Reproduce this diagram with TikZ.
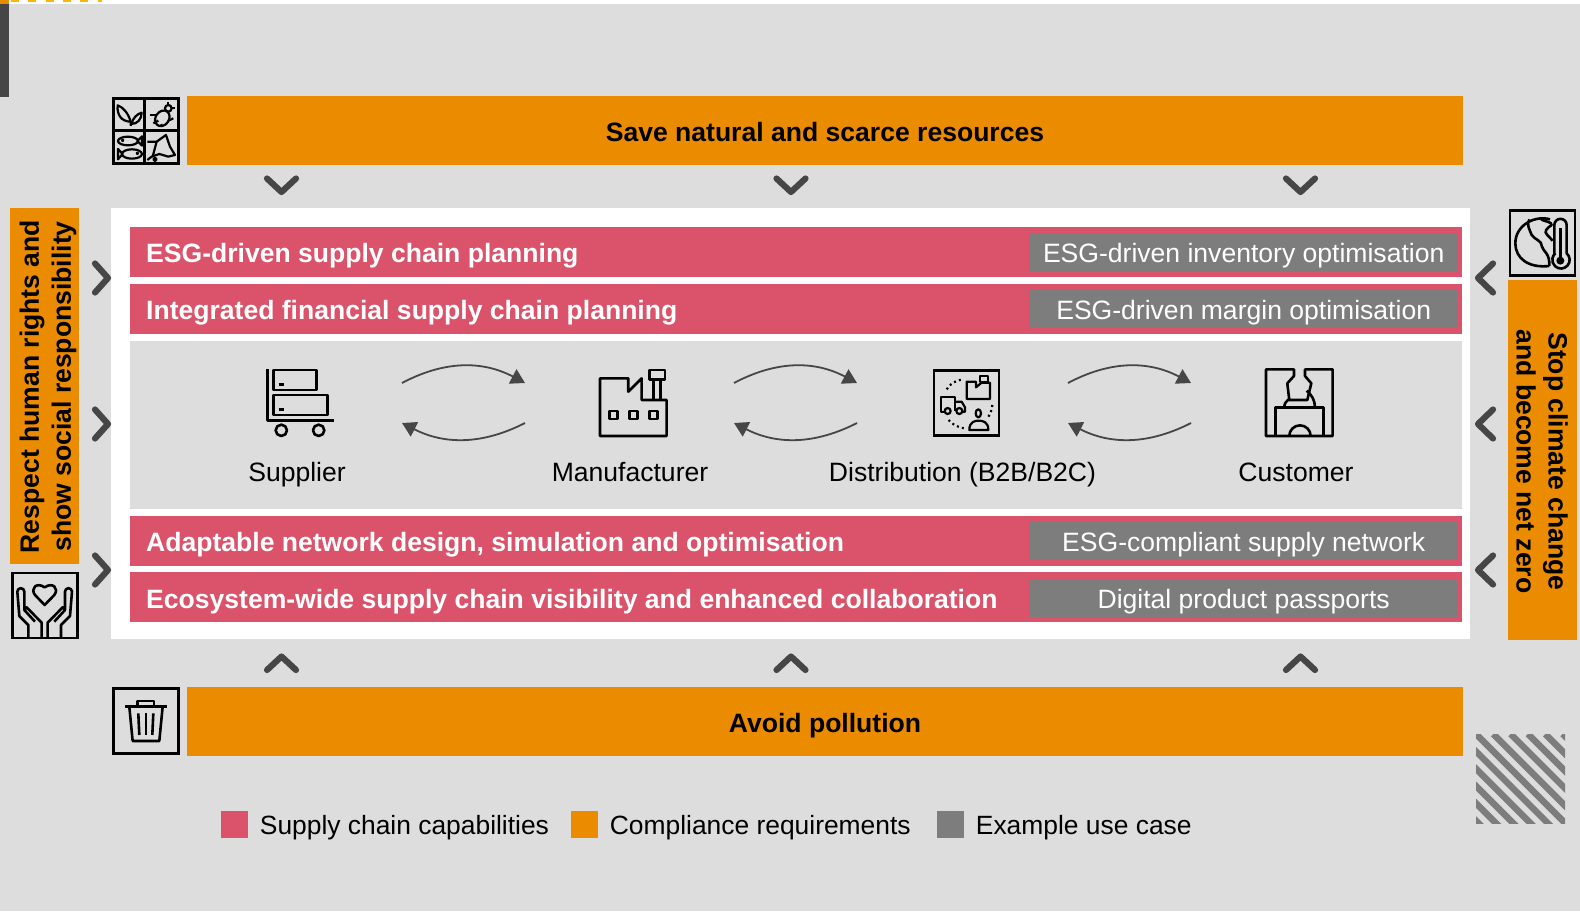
\documentclass[tikz,border=0pt]{standalone}
\usepackage{fontspec}
\setmainfont{Liberation Sans}
\usetikzlibrary{arrows.meta}

\definecolor{page-grey}{HTML}{DDDDDD}
\definecolor{esg-orange}{HTML}{EB8C00}
\definecolor{esg-red}{HTML}{DB536A}
\definecolor{case-grey}{HTML}{7D7D7D}
\definecolor{dark-grey}{HTML}{464646}
\definecolor{top-yellow}{HTML}{FFB600}

\tikzstyle{block}=[anchor=north west, inner sep=0pt, outer sep=0pt]
\tikzstyle{orange-bar}=[block, fill=esg-orange, minimum width=1276pt, minimum height=69pt, text height=21pt, text depth=0pt, font=\fontsize{26.55}{32}\selectfont\bfseries]
\tikzstyle{side-text}=[inner sep=0pt, align=center, font=\fontsize{26.55}{32}\selectfont\bfseries]
\tikzstyle{row-bar}=[block, fill=esg-red, minimum width=1332pt, minimum height=50pt]
\tikzstyle{row-text}=[anchor=west, inner sep=0pt, text=white, text height=19pt, text depth=0pt, font=\fontsize{26.55}{32}\selectfont\bfseries]
\tikzstyle{case-box}=[fill=case-grey, inner sep=0pt, minimum width=428.7pt, minimum height=37.7pt, text=white, text height=21pt, text depth=0pt, font=\fontsize{26.55}{32}\selectfont]
\tikzstyle{stage-text}=[inner sep=0pt, text height=19pt, text depth=0pt, font=\fontsize{26.55}{32}\selectfont]
\tikzstyle{legend-box}=[inner sep=0pt, minimum size=27pt]
\tikzstyle{legend-text}=[inner sep=0pt, text height=21pt, text depth=0pt, font=\fontsize{26.4}{32}\selectfont]
\tikzstyle{icon-frame}=[draw=black, line width=2.6pt, inner sep=0pt, minimum size=65pt]
\tikzstyle{icon-line}=[draw=black, line width=2.6pt, line join=round]
\tikzstyle{chevron}=[draw=dark-grey, line width=6.2pt, line cap=round, line join=round]
\tikzstyle{flow}=[draw=dark-grey, line width=1.8pt, -{Triangle[length=14pt, width=16pt]}]

\begin{document}
\begin{tikzpicture}[x=1pt, y=-1pt]
      \useasboundingbox (0,0) rectangle (1580,911);
      \fill [page-grey] (0,0) rectangle (1580,911);
      \fill [white] (9,0) rectangle (1580,4);
      \fill [esg-orange] (0,0) rectangle (9,4);
      \fill [dark-grey] (0,4) rectangle (9,97);
      \draw [top-yellow, line width=2pt, dash pattern=on 8pt off 9.3pt] (11,1) -- (102,1);

      % top and bottom
      \node (bar:save) at (187,96) [orange-bar] {Save natural and scarce resources};
      \node (bar:avoid) at (187,687) [orange-bar] {Avoid pollution};
      \node (panel) at (111,208) [block, fill=white, minimum width=1359pt, minimum height=431pt] {};

      % left and right
      \node (bar:left) at (10,208) [block, fill=esg-orange, minimum width=69pt, minimum height=356pt] {};
      \node (bar:right) at (1508,280) [block, fill=esg-orange, minimum width=69pt, minimum height=360pt] {};
      \node (text:left) at (48,386.5) [side-text, rotate=90] {Respect human rights and\\show social responsibility};
      \node (text:right) at (1542,461.5) [side-text, rotate=-90] {Stop climate change\\and become net zero};

      % rows
      \node (row:1) at (130,227) [row-bar] {};
      \node (row:2) at (130,284) [row-bar] {};
      \node (row:3) at (130,516) [row-bar] {};
      \node (row:4) at (130,572) [row-bar] {};
      \node (stages) at (130,341) [block, fill=page-grey, minimum width=1332pt, minimum height=168pt] {};

      \node (row-text:1) at (146,252.5) [row-text] {ESG-driven supply chain planning};
      \node (row-text:2) at (146,309.5) [row-text] {Integrated financial supply chain planning};
      \node (row-text:3) at (146,542) [row-text] {Adaptable network design, simulation and optimisation};
      \node (row-text:4) at (146,598.5) [row-text] {Ecosystem-wide supply chain visibility and enhanced collaboration};

      \node (case:1) at (1243.7,252.2) [case-box] {ESG-driven inventory optimisation};
      \node (case:2) at (1243.7,309) [case-box] {ESG-driven margin optimisation};
      \node (case:3) at (1243.7,541.2) [case-box] {ESG-compliant supply network};
      \node (case:4) at (1243.7,597.8) [case-box] {Digital product passports};

      % stages
      \node (stage:1) at (297,472) [stage-text] {Supplier};
      \node (stage:2) at (630,472) [stage-text] {Manufacturer};
      \node (stage:3) at (962.5,472) [stage-text] {Distribution (B2B/B2C)};
      \node (stage:4) at (1296,472) [stage-text] {Customer};

      \coordinate (flow-1a) at (402,383);
      \coordinate (flow-1b) at (525,383);
      \coordinate (flow-1c) at (525,423);
      \coordinate (flow-1d) at (402,423);
      \coordinate (flow-2a) at (734,383);
      \coordinate (flow-2b) at (857,383);
      \coordinate (flow-2c) at (857,423);
      \coordinate (flow-2d) at (734,423);
      \coordinate (flow-3a) at (1068,383);
      \coordinate (flow-3b) at (1191,383);
      \coordinate (flow-3c) at (1191,423);
      \coordinate (flow-3d) at (1068,423);
      \draw [flow] (flow-1a) to [bend left=28] (flow-1b);
      \draw [flow] (flow-1c) to [bend left=27] (flow-1d);
      \draw [flow] (flow-2a) to [bend left=28] (flow-2b);
      \draw [flow] (flow-2c) to [bend left=27] (flow-2d);
      \draw [flow] (flow-3a) to [bend left=28] (flow-3b);
      \draw [flow] (flow-3c) to [bend left=27] (flow-3d);

      % chevrons
      \draw [chevron] (267,178.5) -- (281.5,192) -- (296,178.5);
      \draw [chevron] (776.5,178.5) -- (791,192) -- (805.5,178.5);
      \draw [chevron] (1286,178.5) -- (1300.5,192) -- (1315,178.5);
      \draw [chevron] (267,670) -- (281.5,656.5) -- (296,670);
      \draw [chevron] (776.5,670) -- (791,656.5) -- (805.5,670);
      \draw [chevron] (1286,670) -- (1300.5,656.5) -- (1315,670);
      \draw [chevron] (95,263.5) -- (108,278) -- (95,292.5);
      \draw [chevron] (95,409.5) -- (108,424) -- (95,438.5);
      \draw [chevron] (95,555.5) -- (108,570) -- (95,584.5);
      \draw [chevron] (1493,263.5) -- (1478,278) -- (1493,292.5);
      \draw [chevron] (1493,409.5) -- (1478,424) -- (1493,438.5);
      \draw [chevron] (1493,555.5) -- (1478,570) -- (1493,584.5);

      % supplier
      \begin{scope}[shift={(240,350)}, x=0.3333pt, y=-0.3333pt, icon-line]
        \draw (82,58) -- (82,212) -- (283,212);
        \draw (100,60) rectangle (230,120);
        \draw (100,135) rectangle (262,195);
        \draw (116,103) -- (131,103);
        \draw (116,178) -- (131,178);
        \draw (124,241) circle (17);
        \draw (236,241) circle (17);
      \end{scope}

      % manufacturer
      \begin{scope}[shift={(240,350)}, x=0.3333pt, y=-0.3333pt, icon-line]
        \draw (1080,258) -- (1080,85) -- (1165,85) -- (1165,125) -- (1205,85) -- (1205,150) -- (1280,150) -- (1280,258) -- cycle;
        \draw (1240,150) -- (1240,88);
        \draw (1262,150) -- (1262,88);
        \draw (1228,60) rectangle (1275,88);
        \draw (1108,183) rectangle (1132,207);
        \draw (1168,183) rectangle (1192,207);
        \draw (1228,183) rectangle (1252,207);
      \end{scope}

      % distribution
      \node (icon:distribution) at (966.3,402.7) [icon-frame] {};
      \begin{scope}[shift={(900,350)}, x=0.3333pt, y=-0.3333pt, icon-line, line width=2.2pt]
        \draw (200,147) -- (200,95) -- (228,95) -- (228,112) -- (245,98) -- (270,98) -- (270,147) -- cycle;
        \draw (240,77) rectangle (265,95);
        \draw (134,185) -- (122,185) -- (122,142) -- (165,142) -- (165,183);
        \draw (165,155) -- (185,155) -- (195,172) -- (195,185) -- (188,185);
        \draw (143,183) circle (9);
        \draw (178,183) circle (9);
        \draw (235,190) ellipse (8 and 12);
        \draw (208,240) .. controls (208,215) and (225,212) .. (236,212) .. controls (248,212) and (265,215) .. (265,240) -- cycle;
        \draw [dash pattern=on 2pt off 3.2pt] (140,118) .. controls (150,100) and (170,90) .. (190,88);
        \draw [dash pattern=on 2pt off 3.2pt] (277,165) .. controls (276,178) and (272,190) .. (264,202);
        \draw [dash pattern=on 2pt off 3.2pt] (146,210) .. controls (158,225) and (175,232) .. (196,236);
      \end{scope}

      % customer
      \begin{scope}[shift={(900,350)}, x=0.3333pt, y=-0.3333pt, icon-line]
        \draw (1182,58) -- (1098,58) -- (1098,258) -- (1298,258) -- (1298,58) -- (1215,58) -- (1215,78) -- (1234,100) -- (1222,150) -- (1168,150) -- (1162,100) -- (1182,78) -- cycle;
        \draw (1126,258) -- (1126,172) -- (1270,172) -- (1270,258);
        \draw (1168,258) arc (180:360:32);
        \draw (1153,172) .. controls (1153,160) and (1158,155) .. (1166,148);
        \draw (1245,172) .. controls (1245,150) and (1235,135) .. (1220,122);
      \end{scope}

      % nature
      \node (icon:nature) at (145.8,131) [icon-frame, line width=3pt] {};
      \begin{scope}[x=0.3333pt, y=-0.3333pt, icon-line, line width=2.2pt]
        \draw [line width=3pt] (435,293) -- (435,493);
        \draw [line width=3pt] (337,393) -- (538,393);
        \draw (392,378) -- (392,365) .. controls (385,340) and (370,322) .. (353,316) .. controls (350,345) and (365,365) .. (392,365);
        \draw (394,372) .. controls (400,352) and (412,342) .. (425,338) .. controls (425,358) and (412,372) .. (394,372);
        \draw [rotate around={-35:(487,355)}] (487,355) ellipse (20 and 25);
        \draw (505,325) circle (10);
        \draw (450,346) -- (468,346);
        \draw (460,370) -- (475,362);
        \draw (486,380) -- (484,372);
        \draw (505,362) -- (520,355);
        \draw (515,325) -- (525,325);
        \draw (505,307) -- (505,315);
        \draw (384,423) ellipse (30 and 13);
        \draw (412,423) -- (426,409) -- (426,437) -- cycle;
        \draw (368,421) circle (2);
        \draw (396,462) ellipse (30 and 14);
        \draw (368,462) -- (354,447) -- (354,478) -- cycle;
        \draw (412,460) circle (2);
        \draw (442,425) -- (470,425) -- (498,405) -- (510,440) -- (525,465) -- (505,470) -- (478,462) -- (455,470) -- (442,480);
        \draw (470,425) -- (458,470);
        \draw (465,478) circle (5);
      \end{scope}

      % earth
      \node (icon:earth) at (1542.3,242.7) [icon-frame] {};
      \begin{scope}[shift={(1440,190)}, x=0.3333pt, y=-0.3333pt, icon-line]
        \draw (330,88) .. controls (285,75) and (226,105) .. (226,160) .. controls (226,205) and (265,235) .. (328,228);
        \draw (268,88) .. controls (258,105) and (270,120) .. (275,135) .. controls (285,150) and (305,150) .. (306,170) .. controls (310,185) and (330,190) .. (328,228);
        \draw (303,88) .. controls (315,95) and (335,95) .. (335,105) .. controls (320,115) and (310,125) .. (322,135) -- (338,152);
        \draw (343,190) -- (343,105) arc (180:360:18.5) -- (380,190) arc (-49:229:26);
        \draw [line width=3pt] (361,115) -- (361,205);
        \fill (361,212) circle (12);
      \end{scope}

      % hands
      \node (icon:hands) at (44.7,605.3) [icon-frame] {};
      \begin{scope}[shift={(0,550)}, x=0.3333pt, y=-0.3333pt, icon-line]
        \draw (134,165) -- (105,135) .. controls (90,115) and (110,95) .. (134,112) .. controls (158,95) and (178,115) .. (163,135) -- cycle;
        \draw (85,265) -- (85,225) -- (58,198) -- (52,125) arc (180:360:10.5) -- (73,180) -- (80,172) -- (125,218) -- (125,265);
        \draw (73,180) -- (105,215);
        \draw (183,265) -- (183,225) -- (210,198) -- (216,125) arc (0:-180:10.5) -- (195,180) -- (188,172) -- (143,218) -- (143,265);
        \draw (195,180) -- (163,215);
      \end{scope}

      % trash
      \node (icon:trash) at (145.8,721) [icon-frame] {};
      \begin{scope}[shift={(0,550)}, x=0.3333pt, y=-0.3333pt, icon-line]
        \draw (375,470) -- (500,470);
        \draw (413,470) -- (413,453) -- (462,453) -- (462,470);
        \draw (388,470) -- (398,573) -- (478,573) -- (488,470);
        \draw (415,490) -- (418,555);
        \draw (438,490) -- (438,555);
        \draw (460,490) -- (457,555);
      \end{scope}

      % hatch
      \begin{scope}
        \clip (1476,734) rectangle (1565,823);
        \foreach \off in {-6,...,5}
          \draw [case-grey, line width=6.5pt] ({1493.3+\off*17.33},734) -- ({1593.3+\off*17.33},834);
      \end{scope}

      % legend
      \node (legend:1) at (234.5,824) [legend-box, fill=esg-red, label={[legend-text, label distance=11.5pt]right:Supply chain capabilities}] {};
      \node (legend:2) at (584.5,824) [legend-box, fill=esg-orange, label={[legend-text, label distance=11.5pt]right:Compliance requirements}] {};
      \node (legend:3) at (950.5,824) [legend-box, fill=case-grey, label={[legend-text, label distance=11.5pt]right:Example use case}] {};
    \end{tikzpicture}
\end{document}
